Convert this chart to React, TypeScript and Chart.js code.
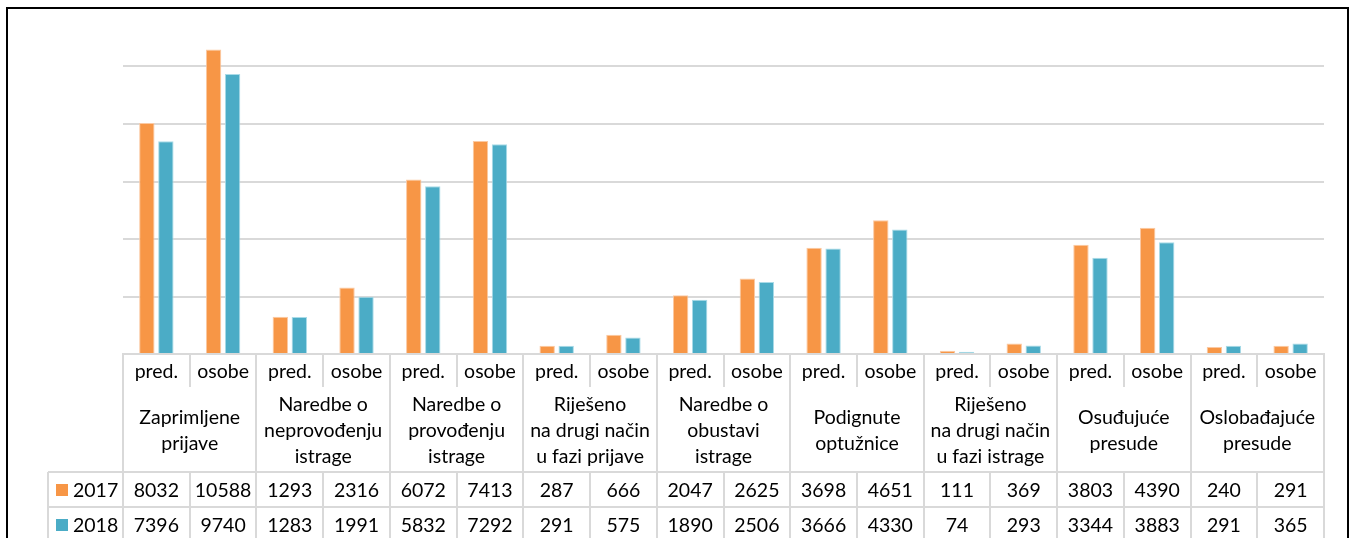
import React, { useEffect, useRef } from "react";
import { Chart, registerables } from "chart.js";

Chart.register(...registerables);

const SUBCATS = ["pred.", "osobe", "pred.", "osobe", "pred.", "osobe", "pred.", "osobe", "pred.", "osobe", "pred.", "osobe", "pred.", "osobe", "pred.", "osobe", "pred.", "osobe"];
const GROUPS = [
  ["Zaprimljene", "prijave"],
  ["Naredbe o", "neprovođenju", "istrage"],
  ["Naredbe o", "provođenju", "istrage"],
  ["Riješeno", "na drugi način", "u fazi prijave"],
  ["Naredbe o", "obustavi", "istrage"],
  ["Podignute", "optužnice"],
  ["Riješeno", "na drugi način", "u fazi istrage"],
  ["Osuđujuće", "presude"],
  ["Oslobađajuće", "presude"],
];
const SERIES_NAMES = ["2017", "2018"];
const VALUES_2017 = [8032, 10588, 1293, 2316, 6072, 7413, 287, 666, 2047, 2625, 3698, 4651, 111, 369, 3803, 4390, 240, 291];
const VALUES_2018 = [7396, 9740, 1283, 1991, 5832, 7292, 291, 575, 1890, 2506, 3666, 4330, 74, 293, 3344, 3883, 291, 365];
const Y_TICKS = [0, 2000, 4000, 6000, 8000, 10000, 12000];

const ORANGE = "#F79646";
const BLUE = "#4BACC6";
const LINE = "#d9d9d9";
const FONT = "19.5px Lato";

const W = 1352;
const H = 538;

export default function App() {
  const ref = useRef<HTMLCanvasElement | null>(null);

  useEffect(() => {
    if (!ref.current) return;
    const tablePlugin = {
      id: "tablePlugin",
      beforeDraw(chart: any) {
        const ctx = chart.ctx;
        const y = chart.scales.y;
        const ca = chart.chartArea;
        ctx.save();
        ctx.fillStyle = "#fff";
        ctx.fillRect(0, 0, W, H);
        ctx.strokeStyle = LINE;
        ctx.lineWidth = 2;
        Y_TICKS.forEach((v) => {
          if (v === 0 || v === Y_TICKS[Y_TICKS.length - 1]) return;
          const py = Math.round(y.getPixelForValue(v));
          ctx.beginPath();
          ctx.moveTo(ca.left, py);
          ctx.lineTo(ca.right, py);
          ctx.stroke();
        });
        ctx.restore();
      },
      afterDraw(chart: any) {
        const ctx = chart.ctx;
        const x = chart.scales.x;
        const ca = chart.chartArea;
        const n = SUBCATS.length;
        const cw = (ca.right - ca.left) / n;
        const top = Math.round(chart.scales.y.getPixelForValue(0));
        const r1 = top + 33;
        const r2 = r1 + 85;
        const r3 = r2 + 35;
        const r4 = r3 + 35;
        const legendLeft = 48;
        const edge = (i: number) => Math.round(ca.left + i * cw);
        ctx.save();
        ctx.strokeStyle = LINE;
        ctx.lineWidth = 2;
        const line = (x1: number, y1: number, x2: number, y2: number) => {
          ctx.beginPath();
          ctx.moveTo(x1, y1);
          ctx.lineTo(x2, y2);
          ctx.stroke();
        };
        line(ca.left - 1, top, ca.right + 1, top);
        line(legendLeft, r2, ca.right + 1, r2);
        line(legendLeft, r3, ca.right + 1, r3);
        line(legendLeft, r4, ca.right + 1, r4);
        for (let i = 0; i <= n; i++) {
          const ex = edge(i);
          if (i % 2 === 0) line(ex, top, ex, H + 5);
          else {
            line(ex, top, ex, r1);
            line(ex, r2, ex, H + 5);
          }
        }
        line(legendLeft, r2, legendLeft, H + 5);

        ctx.fillStyle = "#000";
        ctx.font = FONT;
        ctx.textAlign = "center";
        ctx.textBaseline = "middle";
        for (let i = 0; i < n; i++) {
          const cx = x.getPixelForValue(i);
          ctx.fillText(SUBCATS[i], cx, (top + r1) / 2 + 1);
          ctx.fillText(String(VALUES_2017[i]), cx, (r2 + r3) / 2 + 1);
          ctx.fillText(String(VALUES_2018[i]), cx, (r3 + r4) / 2 + 1);
        }
        const lh = 26;
        GROUPS.forEach((g, gi) => {
          const cx = (x.getPixelForValue(gi * 2) + x.getPixelForValue(gi * 2 + 1)) / 2;
          const mid = (r1 + r2) / 2 + 1;
          g.forEach((t, li) => {
            ctx.fillText(t, cx, mid + (li - (g.length - 1) / 2) * lh);
          });
        });
        const colors = [ORANGE, BLUE];
        const rows = [(r2 + r3) / 2, (r3 + r4) / 2];
        ctx.textAlign = "left";
        SERIES_NAMES.forEach((s, si) => {
          ctx.fillStyle = colors[si];
          ctx.fillRect(56, Math.round(rows[si] - 6), 12, 12);
          ctx.fillStyle = "#000";
          ctx.fillText(s, 73, rows[si] + 1);
        });
        ctx.fillStyle = "#000";
        ctx.fillRect(6, 7, 1343, 2);
        ctx.fillRect(6, 7, 2, H);
        ctx.fillRect(1347, 7, 2, H);
        ctx.restore();
      },
    };

    const chart = new Chart(ref.current, {
      type: "bar",
      data: {
        labels: SUBCATS,
        datasets: [
          { label: SERIES_NAMES[0], data: VALUES_2017, backgroundColor: ORANGE, borderColor: "#fbc9a3", borderWidth: 1, categoryPercentage: 0.57, barPercentage: 0.81 },
          { label: SERIES_NAMES[1], data: VALUES_2018, backgroundColor: BLUE, borderColor: "#a9dbe8", borderWidth: 1, categoryPercentage: 0.57, barPercentage: 0.81 },
        ],
      },
      options: {
        responsive: false,
        animation: false,
        devicePixelRatio: 1,
        layout: { padding: { left: 123, right: 28, top: 9, bottom: 184 } },
        plugins: { legend: { display: false }, tooltip: { enabled: false }, title: { display: false } },
        scales: {
          x: { display: false, offset: true },
          y: { display: false, min: Y_TICKS[0], max: Y_TICKS[Y_TICKS.length - 1], ticks: { stepSize: 2000 } },
        },
      },
      plugins: [tablePlugin],
    });
    return () => chart.destroy();
  }, []);

  return (
    <div style={{ position: "absolute", left: 0, top: 0, width: W, height: H, background: "#fff" }}>
      <canvas ref={ref} width={W} height={H} style={{ display: "block", width: W, height: H }} />
    </div>
  );
}
